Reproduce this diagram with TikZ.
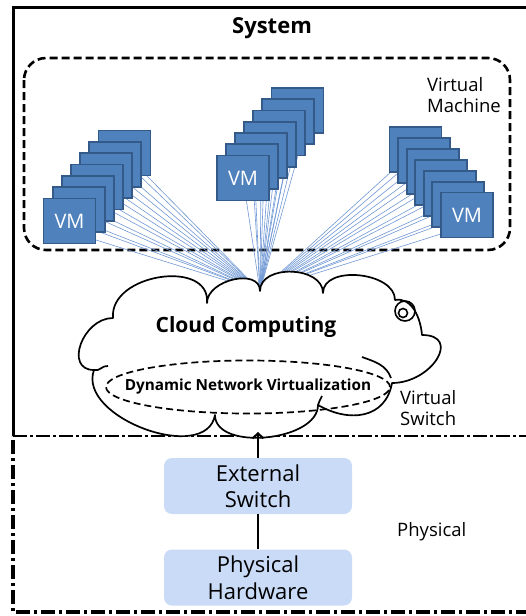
\documentclass[tikz,border=0pt]{standalone}
\usepackage{fontspec}
\setmainfont{Open Sans}
\usetikzlibrary{shapes.geometric,arrows.meta}
\definecolor{vmfill}{RGB}{79,129,189}
\definecolor{vmline}{RGB}{52,90,138}
\definecolor{fan}{RGB}{112,152,212}
\definecolor{hwfill}{RGB}{202,219,247}
\begin{document}
\begin{tikzpicture}[x=1pt,y=-1pt,
  vmbox/.style={draw=vmline, fill=vmfill, line width=1.9pt, minimum width=52pt, minimum height=45pt, inner sep=0pt, text=white, font=\fontsize{20}{22}\selectfont},
  fanline/.style={draw=fan, line width=0.6pt},
  hwbox/.style={fill=hwfill, rounded corners=8pt, minimum width=188pt, minimum height=56pt, align=center, font=\fontsize{22}{26.5}\selectfont, inner sep=0pt},
  lbl/.style={align=left, font=\fontsize{18.5}{21.5}\selectfont, inner sep=0pt, anchor=west},
  dashline/.style={line width=2.6pt, dash pattern=on 8pt off 4pt},
  dashdot/.style={line width=3.2pt, dash pattern=on 14pt off 4pt on 3pt off 4pt},
  cloudline/.style={line width=1.7pt, line join=round}]
\useasboundingbox (0,0) rectangle (526,616);

% system frame and physical frame
\draw[line width=3pt] (13,436) -- (13,7) -- (530,7);
\draw[dashdot] (530,612) -- (13,612) -- (13,436);
\draw[line width=2pt, dash pattern=on 14pt off 3pt on 3pt off 3pt] (13,436) -- (530,436);
\node[font=\bfseries\fontsize{22}{24}\selectfont] (sys) at (272,28.5) {System};

% virtual machine region
\draw[dashline, rounded corners=22pt] (24,58) rectangle (510,250);
\node[lbl] (vmlbl) at (427,95) {Virtual\\Machine};

% hub where the fan lines meet (top of the cloud)
\coordinate (hub) at (260,291);

% stack centres
\foreach \i in {0,...,6} {
  \coordinate (Lc\i) at ({69.5+9.17*\i},{221-11.33*\i});
  \coordinate (Mc\i) at ({243+9.08*\i},{178-11.25*\i});
  \coordinate (Rc\i) at ({467-8.58*\i},{215-10.9*\i});
}
% fan lines (under the boxes)
\foreach \i in {0,...,6} {
  \draw[fanline] (Lc\i) -- (hub);
  \draw[fanline] ([shift={(4,12)}]Lc\i) -- (hub);
  \draw[fanline] (Mc\i) -- (hub);
  \draw[fanline] ([shift={(12,4)}]Mc\i) -- (hub);
  \draw[fanline] (Rc\i) -- (hub);
  \draw[fanline] ([shift={(-4,12)}]Rc\i) -- (hub);
}
% boxes, back to front
\foreach \i in {6,5,...,0} {
  \node[vmbox] (L\i) at (Lc\i) {\ifnum\i=0 VM\fi};
  \node[vmbox] (M\i) at (Mc\i) {\ifnum\i=0 VM\fi};
  \node[vmbox] (R\i) at (Rc\i) {\ifnum\i=0 VM\fi};
}

% cloud outline
\draw[cloudline, fill=white]
  (94,370) to[out=180,in=180,looseness=1.4] (113,318)
  to[out=95,in=85,looseness=1.2] (207,303)
  to[out=90,in=90,looseness=1.1] (hub)
  to[out=90,in=90,looseness=1.1] (323,293)
  to[out=90,in=90,looseness=1.0] (395,300)
  to[out=10,in=95,looseness=1.0] (422,335)
  to[out=0,in=0,looseness=1.8] (392,383)
  to[out=260,in=330,looseness=1.2] (318,405)
  to[out=270,in=270,looseness=0.9] (215,415)
  to[out=260,in=250,looseness=1.0] cycle;
% inner cloud strokes
\draw[cloudline] (362,357) to[out=340,in=110] (391,378);
\draw[cloudline] (318,405) to[out=70,in=240] (322,396);
\draw[cloudline] (94,370) to[out=340,in=170] (108,366);
\coordinate (cloudbot) at (258,432);
% spiral mark
\draw[line width=1.6pt] (405,311) circle (10);
\draw[line width=1.6pt] (403,313) circle (4.5);

\node[font=\bfseries\fontsize{21}{24}\selectfont] (cc) at (246,327) {Cloud Computing};
\node[ellipse, draw, line width=1.7pt, dash pattern=on 7pt off 4pt, minimum width=284pt, minimum height=53pt, inner sep=0pt] (dnv) at (248,387) {};
\node[font=\bfseries\fontsize{15.3}{17}\selectfont] (dnvt) at (dnv) {Dynamic Network Virtualization};
\node[lbl] (vslbl) at (400,408) {Virtual\\Switch};

% physical part
\node[hwbox] (ext) at (258,486) {External\\Switch};
\node[hwbox] (hw) at (258,577.5) {Physical\\Hardware};
\node[lbl] (phys) at (397,532) {Physical};
\draw[line width=2.2pt] (hw) -- (ext);
\draw[line width=2pt, -{Straight Barb[length=5pt,width=11pt]}] (ext) -- (cloudbot);
\end{tikzpicture}
\end{document}
